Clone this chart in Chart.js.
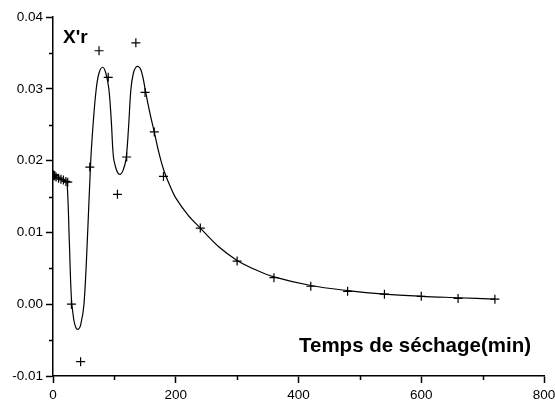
<!DOCTYPE html>
<html>
<head>
<meta charset="utf-8">
<script src="https://cdn.jsdelivr.net/npm/chart.js@4"></script>
<style>
  html, body { margin: 0; padding: 0; background: #fff; }
  #wrap { width: 555px; height: 401px; position: relative; }
</style>
</head>
<body>
<div id="wrap"><canvas id="dryingChart"></canvas></div>
<script>
// measured points (crosses)
var sampleX = [0, 1, 2, 3, 5, 9, 13, 17, 21, 24, 30, 45, 60, 75, 90, 105, 120, 135, 150, 165, 180, 240, 300, 360, 420, 480, 540, 600, 660, 720];
var sampleY = [0.0180, 0.0180, 0.0179, 0.0179, 0.0177, 0.01755, 0.0174, 0.0173, 0.0171, 0.0170, 0.0000, -0.0080, 0.0191, 0.0353, 0.0316, 0.0153, 0.0205, 0.0364, 0.0295, 0.0240, 0.0178, 0.0106, 0.0060, 0.0037, 0.0025, 0.0018, 0.0014, 0.0011, 0.0008, 0.0007];

// fitted curve
var curveX = [0, 10, 20, 23, 26.5, 30, 34, 37, 41, 45, 50.5, 56.5, 61.5, 66, 70.5, 75, 81, 86, 91, 95, 98.5, 103, 106.5, 110, 114, 119, 123, 127, 131, 135, 139, 143, 147, 150, 155, 160, 165, 172, 180, 190, 200, 220, 240, 270, 300, 330, 360, 420, 480, 540, 600, 660, 720];
var curveY = [0.0179, 0.0175, 0.0172, 0.0168, 0.0090, 0.0008, -0.0022, -0.0032, -0.0035, -0.0029, 0.0000, 0.0100, 0.0200, 0.0258, 0.0300, 0.0322, 0.0330, 0.0322, 0.0300, 0.0255, 0.0205, 0.0188, 0.0182, 0.0181, 0.0186, 0.0202, 0.0245, 0.0300, 0.0322, 0.0330, 0.0331, 0.0327, 0.0314, 0.0300, 0.0278, 0.0258, 0.0240, 0.0213, 0.0188, 0.0166, 0.0148, 0.0124, 0.0106, 0.0080, 0.0061, 0.0048, 0.0038, 0.0026, 0.0019, 0.0014, 0.0011, 0.0009, 0.0007];

// axis ticks
var xMajor = [0, 200, 400, 600, 800];
var xMinor = [100, 300, 500, 700];
var yMinor = [-0.005, 0.005, 0.015, 0.025, 0.035];

var yLabel = "X'r";
var xLabel = "Temps de séchage(min)";

var sampleData = sampleX.map(function (x, i) { return { x: x, y: sampleY[i] }; });
var curveData = curveX.map(function (x, i) { return { x: x, y: curveY[i] }; });

var fontName = "'Liberation Sans', Arial, sans-serif";

// short minor ticks + the two labels inside the plot
var extras = {
    id: 'extras',
    afterDraw: function (chart) {
        var c = chart.ctx;
        var xs = chart.scales.x, ys = chart.scales.y;
        var area = chart.chartArea;
        c.save();
        c.strokeStyle = '#000';
        c.lineWidth = 1.5;
        c.beginPath();
        xMinor.forEach(function (v) {
            var px = Math.round(xs.getPixelForValue(v)) + 0.5;
            c.moveTo(px, area.bottom);
            c.lineTo(px, area.bottom + 4);
        });
        yMinor.forEach(function (v) {
            var py = Math.round(ys.getPixelForValue(v)) + 0.5;
            c.moveTo(area.left, py);
            c.lineTo(area.left - 4, py);
        });
        c.stroke();

        c.fillStyle = '#000';
        c.font = "bold 19px " + fontName;
        c.textAlign = 'left';
        c.textBaseline = 'alphabetic';
        c.fillText(yLabel, area.left + 10, area.top + 26);
        c.font = "bold 20.5px " + fontName;
        c.textAlign = 'right';
        c.fillText(xLabel, area.right - 13, area.bottom - 24);
        c.restore();
    }
};

var chart = new Chart(document.getElementById('dryingChart'), {
    type: 'scatter',
    data: {
        datasets: [{
            label: 'fit',
            data: curveData,
            showLine: true,
            borderColor: '#000',
            borderWidth: 1.2,
            pointRadius: 0,
            tension: 0.35,
            fill: false
        }, {
            label: 'mesures',
            data: sampleData,
            pointStyle: 'cross',
            pointRadius: 4.5,
            borderColor: '#000',
            backgroundColor: '#000',
            borderWidth: 1.2,
            showLine: false
        }]
    },
    options: {
        responsive: true,
        maintainAspectRatio: false,
        animation: false,
        layout: { padding: { top: 17, right: 11, left: 0, bottom: 0 } },
        plugins: {
            legend: { display: false },
            tooltip: { enabled: false }
        },
        scales: {
            x: {
                type: 'linear',
                min: 0,
                max: 800,
                afterBuildTicks: function (scale) {
                    scale.ticks = xMajor.map(function (v) { return { value: v }; });
                },
                afterFit: function (scale) {
                    scale.height = 25;
                    scale.paddingLeft = 0;
                    scale.paddingRight = 0;
                },
                border: { display: true, color: '#000', width: 1.5 },
                grid: { drawOnChartArea: false, drawTicks: true, tickLength: 7, tickColor: '#000', tickWidth: 1.5 },
                ticks: {
                    color: '#000',
                    padding: 4,
                    maxRotation: 0,
                    font: { family: fontName, size: 13.5 }
                }
            },
            y: {
                type: 'linear',
                min: -0.01,
                max: 0.04,
                ticks: {
                    stepSize: 0.01,
                    color: '#000',
                    padding: 3,
                    font: { family: fontName, size: 13.5 },
                    callback: function (v) { return v.toFixed(2); }
                },
                afterFit: function (scale) { scale.width = 53; },
                border: { display: true, color: '#000', width: 1.5 },
                grid: { drawOnChartArea: false, drawTicks: true, tickLength: 7, tickColor: '#000', tickWidth: 1.5 }
            }
        }
    },
    plugins: [extras]
});
</script>
</body>
</html>
